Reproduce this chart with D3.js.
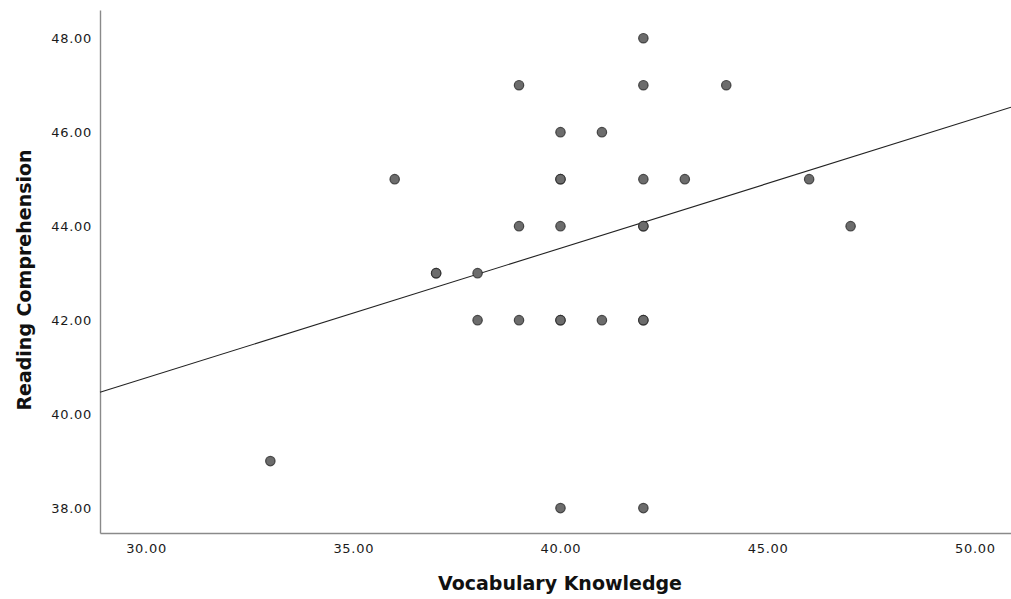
<!DOCTYPE html>
<html>
<head>
<meta charset="utf-8">
<script src="https://cdn.jsdelivr.net/npm/d3@7"></script>
<style>
  html, body { margin: 0; padding: 0; background: #fff; }
  svg { display: block; }
  .tick text { font-family: "DejaVu Sans", sans-serif; font-size: 13px; fill: #1a1a1a; letter-spacing: 0.7px; }
  .axis-title { font-family: "DejaVu Sans", sans-serif; font-weight: bold; font-size: 19px; fill: #111; }
</style>
</head>
<body>
<svg id="chart" width="1011" height="599"></svg>
<script>
// Vocabulary Knowledge (x) vs Reading Comprehension (y), one entry per case
const vocabulary = [33, 36, 37, 37, 38, 38, 39, 39, 39, 40, 40, 40, 40, 40, 40, 40, 41, 41, 42, 42, 42, 42, 42, 42, 42, 42, 43, 44, 46, 47];
const reading    = [39, 45, 43, 43, 43, 42, 47, 44, 42, 46, 45, 45, 44, 42, 42, 38, 46, 42, 48, 47, 45, 44, 44, 42, 42, 38, 45, 47, 45, 44];

// Linear fit line: reading = intercept + slope * vocabulary
const fitIntercept = 32.49;
const fitSlope = 0.276;

const xTicks = [30, 35, 40, 45, 50];
const yTicks = [38, 40, 42, 44, 46, 48];

const svg = d3.select("#chart");
const plotLeft = 100, plotRight = 1011, plotTop = 10, plotBottom = 533;

const x = d3.scaleLinear().domain([28.89, 50.87]).range([plotLeft, plotRight]);
const y = d3.scaleLinear().domain([37.47, 48.6]).range([plotBottom, plotTop]);

const fmt = d3.format(".2f");

// Axes: only the axis lines, no tick marks
const xAxis = svg.append("g")
  .attr("transform", `translate(0,${plotBottom})`)
  .call(d3.axisBottom(x).tickValues(xTicks).tickFormat(fmt).tickSize(0).tickPadding(11));
const yAxis = svg.append("g")
  .attr("transform", `translate(${plotLeft},0)`)
  .call(d3.axisLeft(y).tickValues(yTicks).tickFormat(fmt).tickSize(0).tickPadding(8));

[xAxis, yAxis].forEach(g => {
  g.select(".domain").attr("stroke", "#8a8a8a").attr("stroke-width", 1.4);
});

// Fit line across the plotted range
const [x0, x1] = x.domain();
svg.append("line")
  .attr("x1", x(x0)).attr("y1", y(fitIntercept + fitSlope * x0))
  .attr("x2", x(x1)).attr("y2", y(fitIntercept + fitSlope * x1))
  .attr("stroke", "#222").attr("stroke-width", 1.1);

// Points
const points = vocabulary.map((v, i) => ({ v, r: reading[i] }));
svg.append("g").selectAll("circle")
  .data(points)
  .join("circle")
  .attr("cx", d => x(d.v))
  .attr("cy", d => y(d.r))
  .attr("r", 4.7)
  .attr("fill", "#6c6c6c")
  .attr("stroke", "#2a2a2a")
  .attr("stroke-opacity", 0.8)
  .attr("stroke-width", 1.2);

// Axis titles
svg.append("text")
  .attr("class", "axis-title")
  .attr("x", 560).attr("y", 590)
  .attr("text-anchor", "middle")
  .text("Vocabulary Knowledge");

svg.append("text")
  .attr("class", "axis-title")
  .attr("transform", "translate(31,280) rotate(-90)")
  .attr("text-anchor", "middle")
  .text("Reading Comprehension");
</script>
</body>
</html>
